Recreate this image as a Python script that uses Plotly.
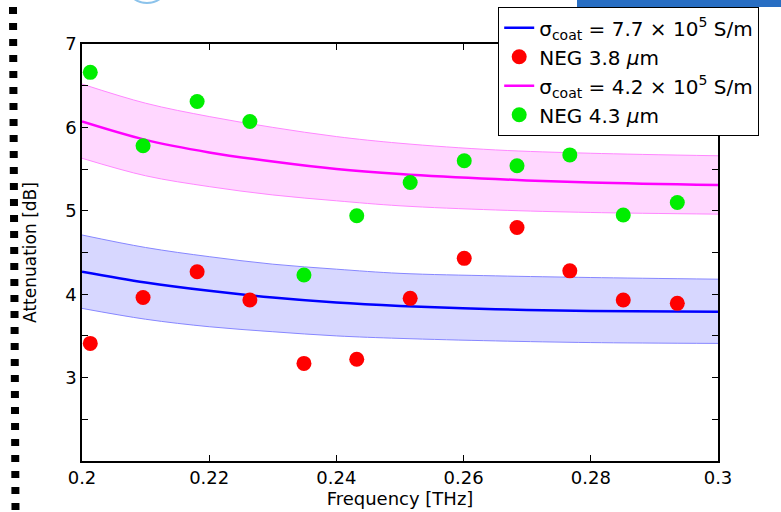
import plotly.graph_objects as go

# ---- data ----
freq_meas = [0.2013, 0.2096, 0.2181, 0.2264, 0.2349, 0.2432, 0.2516, 0.2601, 0.2684, 0.2767, 0.2851, 0.2936]
neg38 = [3.41, 3.96, 4.27, 3.93, 3.17, 3.22, 3.95, 4.43, 4.80, 4.28, 3.93, 3.89]
neg43 = [6.66, 5.78, 6.31, 6.07, 4.23, 4.94, 5.34, 5.60, 5.54, 5.67, 4.95, 5.10]

freq_model = [0.200, 0.210, 0.220, 0.230, 0.240, 0.250, 0.265, 0.280, 0.300]
sig77 = [4.27, 4.14, 4.04, 3.96, 3.90, 3.86, 3.82, 3.80, 3.79]
sig77_hi = [4.71, 4.56, 4.45, 4.36, 4.30, 4.25, 4.22, 4.20, 4.18]
sig77_lo = [3.83, 3.70, 3.61, 3.55, 3.50, 3.47, 3.44, 3.42, 3.41]
sig42 = [6.07, 5.85, 5.70, 5.59, 5.50, 5.44, 5.38, 5.34, 5.31]
sig42_hi = [6.52, 6.29, 6.13, 6.00, 5.89, 5.81, 5.73, 5.69, 5.66]
sig42_lo = [5.63, 5.42, 5.29, 5.19, 5.12, 5.06, 5.01, 4.98, 4.96]

xtick_vals = [0.2, 0.22, 0.24, 0.26, 0.28, 0.3]
xtick_text = ["0.2", "0.22", "0.24", "0.26", "0.28", "0.3"]
ytick_vals = [3, 4, 5, 6, 7]
ytick_text = ["3", "4", "5", "6", "7"]

FONT = "DejaVu Sans"
W, H = 781, 512
L, R, T, B = 82, 63, 44, 51
PW, PH = W - L - R, H - T - B


def px(x):
    return (x - L) / PW


def py(y):
    return (H - B - y) / PH


fig = go.Figure()

# bands
for hi, lo, edge, fillc in [
    (sig77_hi, sig77_lo, "rgb(135,135,255)", "rgba(215,215,255,1)"),
    (sig42_hi, sig42_lo, "rgb(255,135,255)", "rgba(255,215,255,1)"),
]:
    fig.add_trace(go.Scatter(x=freq_model, y=hi, mode="lines", line=dict(color=edge, width=1, shape="spline"),
                             showlegend=False, hoverinfo="skip"))
    fig.add_trace(go.Scatter(x=freq_model, y=lo, mode="lines", line=dict(color=edge, width=1, shape="spline"),
                             fill="tonexty", fillcolor=fillc, showlegend=False, hoverinfo="skip"))

fig.add_trace(go.Scatter(x=freq_model, y=sig77, mode="lines", line=dict(color="#0000ff", width=2.5, shape="spline"),
                         name="σ<sub>coat</sub> = 7.7 × 10<sup>5</sup> S/m"))
fig.add_trace(go.Scatter(x=freq_meas, y=neg38, mode="markers", marker=dict(color="#ff0000", size=15),
                         name="NEG 3.8 <i>μ</i>m"))
fig.add_trace(go.Scatter(x=freq_model, y=sig42, mode="lines", line=dict(color="#ff00ff", width=2.5, shape="spline"),
                         name="σ<sub>coat</sub> = 4.2 × 10<sup>5</sup> S/m"))
fig.add_trace(go.Scatter(x=freq_meas, y=neg43, mode="markers", marker=dict(color="#00ee00", size=15),
                         name="NEG 4.3 <i>μ</i>m"))

axis_common = dict(showgrid=False, zeroline=False, showline=True, linecolor="black", linewidth=1.5,
                   mirror="ticks", ticks="inside", ticklen=6, tickcolor="black", tickwidth=1,
                   tickfont=dict(family=FONT, size=18, color="black"))

fig.update_xaxes(range=[0.2, 0.3], tickvals=xtick_vals, ticktext=xtick_text,
                 title=dict(text="Frequency [THz]", font=dict(family=FONT, size=18, color="black"), standoff=2),
                 **axis_common)
fig.update_yaxes(range=[2, 7], tickvals=ytick_vals, ticktext=ytick_text,
                 minor=dict(tick0=2, dtick=0.5, ticks="inside", ticklen=6, tickcolor="black", tickwidth=1,
                            showgrid=False),
                 title=dict(text="Attenuation [dB]", font=dict(family=FONT, size=17, color="black"), standoff=24),
                 **axis_common)

shapes = [
    # dashed border remnant on the left
    dict(type="line", xref="paper", yref="paper", x0=px(13), y0=py(7), x1=px(15.5), y1=py(512),
         line=dict(color="black", width=8, dash="7px,9px"), layer="above"),
    # blue strip top-right
    dict(type="rect", xref="paper", yref="paper", x0=px(577), y0=py(7), x1=px(781), y1=py(-2),
         fillcolor="rgb(40,110,195)", line=dict(width=0), layer="above"),
    # light blue arc top-left
    dict(type="circle", xref="paper", yref="paper", x0=px(125), y0=py(3), x1=px(169), y1=py(-40),
         line=dict(color="rgb(140,195,235)", width=2), layer="above"),
]

fig.update_layout(
    width=W, height=H,
    margin=dict(l=L, r=R, t=T, b=B, autoexpand=False),
    paper_bgcolor="white", plot_bgcolor="white",
    font=dict(family=FONT, color="black"),
    showlegend=True,
    legend=dict(x=px(498), y=py(7), xanchor="left", yanchor="top", traceorder="normal",
                bgcolor="white", bordercolor="black", borderwidth=1.2,
                font=dict(family=FONT, size=20, color="black"), tracegroupgap=0),
    shapes=shapes,
)

fig.write_html("out.html")
